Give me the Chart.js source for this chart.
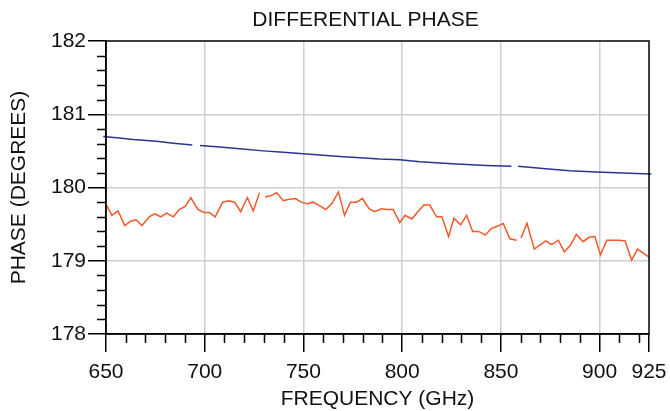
<!DOCTYPE html>
<html>
<head>
<meta charset="utf-8">
<script src="https://cdn.jsdelivr.net/npm/chart.js@4.4.1/dist/chart.umd.min.js"></script>
<style>
  html, body { margin: 0; padding: 0; background: #fff; }
  #wrap { width: 670px; height: 411px; position: relative; }
</style>
</head>
<body>
<div id="wrap"><canvas id="c" width="670" height="411"></canvas></div>
<script>
// ---- data ----
const xMajorTicks = [650, 700, 750, 800, 850, 900, 925];
const yMajorTicks = [178, 179, 180, 181, 182];

const redFreq = [
  647.3, 649.7, 653.0, 656.1, 659.5, 662.5, 665.2, 668.2, 671.9, 674.6,
  677.7, 680.7, 684.1, 687.1, 690.1, 692.9, 696.6, 699.6, 702.3, 705.3,
  709.1, 712.1, 715.1, 718.2, 721.6, 724.6, 727.7,
  729.2,
  730.6, 733.7, 736.4, 739.8, 742.8, 745.9, 748.9, 751.9, 754.9, 758.3,
  761.3, 764.4, 767.7, 770.8, 773.8, 776.8, 779.9, 783.2, 786.0, 789.4,
  792.1, 795.4, 798.8, 801.5, 804.9, 807.9, 811.0, 814.0, 817.4, 820.1,
  823.5, 826.2, 829.6, 832.6, 835.7, 838.7, 842.1, 845.1, 848.1, 851.2, 854.5, 858.0,
  859.1,
  860.2, 863.2, 866.9, 870.0, 872.7, 875.7, 879.1, 882.1, 885.2, 888.2,
  891.6, 894.6, 897.6, 900.4, 903.7, 906.8, 909.8, 912.9, 916.2, 919.2,
  922.3, 925.0
];
const redPhase = [
  179.955, 179.79, 179.62, 179.68, 179.48, 179.54, 179.56, 179.48, 179.60, 179.64,
  179.60, 179.65, 179.60, 179.70, 179.74, 179.86, 179.70, 179.66, 179.66, 179.60,
  179.80, 179.82, 179.80, 179.67, 179.86, 179.68, 179.93,
  null,
  179.87, 179.89, 179.93, 179.82, 179.84, 179.85, 179.80, 179.78, 179.80, 179.75,
  179.70, 179.78, 179.94, 179.62, 179.80, 179.80, 179.85, 179.71, 179.67, 179.71,
  179.70, 179.70, 179.52, 179.62, 179.57, 179.67, 179.76, 179.76, 179.60, 179.60,
  179.33, 179.58, 179.49, 179.62, 179.40, 179.40, 179.35, 179.44, 179.47, 179.51, 179.30, 179.28,
  null,
  179.31, 179.51, 179.16, 179.22, 179.27, 179.22, 179.28, 179.12, 179.21, 179.36,
  179.26, 179.32, 179.33, 179.08, 179.28, 179.28, 179.28, 179.27, 179.01, 179.16,
  179.10, 179.05
];

const blueFreq = [
  648.6, 655.4, 663.8, 675.6, 684.1, 693.7,
  695.6,
  697.6, 706.0, 717.8, 729.6, 739.8, 749.9, 760.0, 770.1, 776.9, 788.3, 798.8, 808.9, 827.5, 842.6, 855.3,
  857.0,
  858.7, 871.3, 884.8, 898.3, 908.4, 918.6, 926.2
];
const bluePhase = [
  180.696, 180.68, 180.655, 180.63, 180.605, 180.58,
  null,
  180.575, 180.555, 180.53, 180.50, 180.48, 180.46, 180.44, 180.42, 180.41, 180.39, 180.38, 180.35, 180.32, 180.30, 180.29,
  null,
  180.29, 180.26, 180.23, 180.21, 180.20, 180.19, 180.185
];

const titleText = 'DIFFERENTIAL PHASE';
const xTitle = 'FREQUENCY (GHz)';
const yTitle = 'PHASE (DEGREES)';

// ---- chart ----
const FONT = '"Liberation Sans", Arial, sans-serif';
const FS = 21;
const toPts = (xs, ys) => xs.map((x, i) => ({ x: x, y: ys[i] }));

const decor = {
  id: 'decor',
  afterDraw(chart) {
    const ctx = chart.ctx;
    const a = chart.chartArea;
    const xs = chart.scales.x, ys = chart.scales.y;
    ctx.save();
    ctx.strokeStyle = '#000';
    ctx.lineWidth = 1.5;
    ctx.beginPath();
    for (let f = 660; f < 925; f += 10) {
      if (f % 50 === 0) continue;
      const px = Math.round(xs.getPixelForValue(f)) + 0.5;
      ctx.moveTo(px, a.bottom);
      ctx.lineTo(px, a.bottom + 9);
    }
    for (let k = 0; k <= 20; k++) {
      if (k % 5 === 0) continue;
      const v = 178 + k * 0.2;
      const py = Math.round(ys.getPixelForValue(v)) + 0.5;
      ctx.moveTo(a.left - 9, py);
      ctx.lineTo(a.left, py);
    }
    ctx.stroke();
    ctx.strokeRect(a.left, a.top, a.right - a.left, a.bottom - a.top);
    // chart title
    ctx.fillStyle = '#111';
    ctx.font = FS + 'px ' + FONT;
    ctx.textAlign = 'center';
    ctx.textBaseline = 'middle';
    ctx.fillText(titleText, 365.5, 20);
    ctx.restore();
  }
};

new Chart(document.getElementById('c'), {
  type: 'scatter',
  data: {
    datasets: [
      {
        data: toPts(blueFreq, bluePhase),
        showLine: true,
        borderColor: '#2b3590',
        borderWidth: 1.5,
        pointRadius: 0,
        spanGaps: false,
        clip: false,
        tension: 0
      },
      {
        data: toPts(redFreq, redPhase),
        showLine: true,
        borderColor: '#f2582a',
        borderWidth: 1.5,
        pointRadius: 0,
        spanGaps: false,
        clip: false,
        tension: 0
      }
    ]
  },
  options: {
    responsive: false,
    animation: false,
    events: [],
    layout: { padding: { left: 7, right: 21, top: 41, bottom: 0 } },
    plugins: {
      legend: { display: false },
      tooltip: { enabled: false },
      title: { display: false }
    },
    scales: {
      x: {
        type: 'linear',
        min: 650,
        max: 925,
        afterBuildTicks: (s) => { s.ticks = xMajorTicks.map(v => ({ value: v })); },
        afterFit: (s) => { s.height = 77; s.paddingLeft = 0; s.paddingRight = 0; },
        ticks: {
          color: '#111',
          font: { family: FONT, size: FS },
          padding: 8,
          maxRotation: 0,
          autoSkip: false
        },
        grid: {
          color: (c) => (c.tick && (c.tick.value === 650 || c.tick.value === 925)) ? 'rgba(0,0,0,0)' : '#cfcfcf',
          lineWidth: 1.5,
          tickColor: '#000',
          tickWidth: 1.5,
          tickLength: 18
        },
        border: { display: true, color: '#000', width: 1.5 },
        title: {
          display: true,
          text: xTitle,
          color: '#111',
          font: { family: FONT, size: FS, lineHeight: 1.1 },
          padding: 0
        }
      },
      y: {
        type: 'linear',
        min: 178,
        max: 182,
        afterBuildTicks: (s) => { s.ticks = yMajorTicks.map(v => ({ value: v })); },
        afterFit: (s) => { s.width = 99; s.paddingTop = 0; s.paddingBottom = 0; },
        ticks: {
          color: '#111',
          font: { family: FONT, size: FS },
          padding: 2
        },
        grid: {
          color: (c) => (c.tick && (c.tick.value === 178 || c.tick.value === 182)) ? 'rgba(0,0,0,0)' : '#cfcfcf',
          lineWidth: 1.5,
          tickColor: '#000',
          tickWidth: 1.5,
          tickLength: 18
        },
        border: { display: true, color: '#000', width: 1.5 },
        title: {
          display: true,
          text: yTitle,
          color: '#111',
          font: { family: FONT, size: FS },
          padding: 0
        }
      }
    }
  },
  plugins: [decor]
});
</script>
</body>
</html>
